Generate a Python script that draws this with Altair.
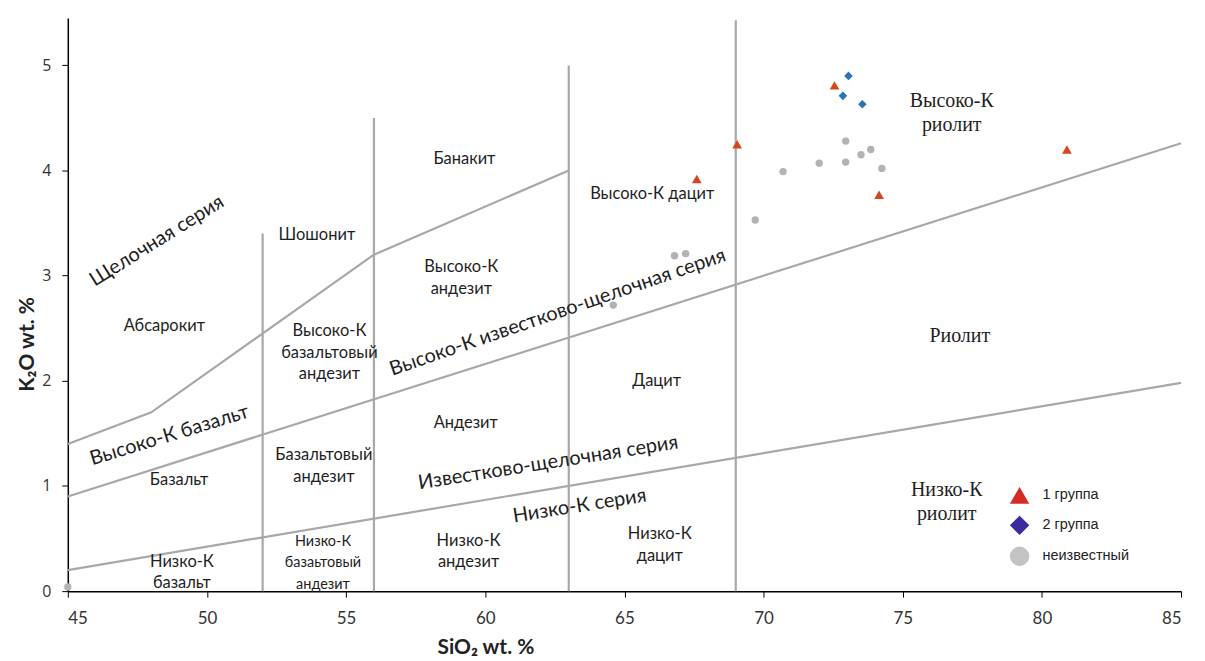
import altair as alt
import pandas as pd

# ---------------- data ----------------
# sample points (SiO2, K2O)
g1_x = [67.6, 69.05, 72.55, 74.15, 80.9]
g1_y = [3.92, 4.25, 4.81, 3.77, 4.20]
g2_x = [73.05, 72.85, 73.55]
g2_y = [4.90, 4.71, 4.63]
g3_x = [72.95, 73.85, 73.5, 72.0, 72.95, 74.25, 70.7, 69.7, 66.8, 67.2, 64.6, 45.0]
g3_y = [4.28, 4.20, 4.15, 4.07, 4.08, 4.02, 3.99, 3.53, 3.19, 3.21, 2.72, 0.04]
groups = ["1 группа", "2 группа", "неизвестный"]

# classification boundaries
alk_x = [45, 48, 56, 63]
alk_y = [1.4, 1.7, 3.2, 4.0]
hk_x = [45, 85]
hk_y = [0.9, 4.26]
lk_x = [45, 85]
lk_y = [0.2, 1.98]
vert_x = [52, 56, 63, 69]
vert_top = [3.4, 4.5, 5.0, 5.43]

# field labels (y = centre of the first line)
sans_text = ["Абсарокит", "Шошонит", "Высоко-К\nбазальтовый\nандезит", "Базальтовый\nандезит",
             "Базальт", "Низко-К\nбазальт", "Низко-К\nбазаьтовый\nандезит", "Банакит",
             "Высоко-К\nандезит", "Андезит", "Дацит", "Низко-К\nандезит", "Низко-К\nдацит",
             "Высоко-К дацит",
             "Щелочная серия", "Высоко-К базальт", "Высоко-К известково-щелочная серия",
             "Известково-щелочная серия", "Низко-К серия"]
sans_x = [48.47, 53.95, 54.4, 54.2, 49.0, 49.1, 54.17, 59.25, 59.14, 59.3, 66.16, 59.4, 66.27, 66.0,
          48.2, 48.65, 62.6, 62.26, 63.39]
sans_y = [2.52, 3.39, 2.47, 1.29, 1.06, 0.28, 0.47, 4.11, 3.08, 1.60, 2.0, 0.48, 0.54, 3.78,
          3.33, 1.48, 2.65, 1.22, 0.81]
sans_angle = [0] * 14 + [328, 343, 341, 351, 351]
sans_size = [16.5, 16.5, 16.5, 16.5, 16.5, 16.5, 14.5, 16.5, 16.5, 16.5, 16.5, 16.5, 16.5, 16.5,
             20, 20, 20, 20, 20]

serif_text = ["Высоко-К\nриолит", "Риолит", "Низко-К\nриолит"]
serif_x = [76.76, 77.05, 76.58]
serif_y = [4.66, 2.43, 0.96]

# ---------------- tables ----------------
pts = pd.DataFrame({
    "SiO2": g1_x + g2_x + g3_x,
    "K2O": g1_y + g2_y + g3_y,
    "group": [groups[0]] * len(g1_x) + [groups[1]] * len(g2_x) + [groups[2]] * len(g3_x),
})

lines = pd.DataFrame({
    "x": alk_x + hk_x + lk_x,
    "y": alk_y + hk_y + lk_y,
    "id": ["alk"] * len(alk_x) + ["hk"] * len(hk_x) + ["lk"] * len(lk_x),
    "o": list(range(len(alk_x))) + list(range(len(hk_x))) + list(range(len(lk_x))),
})
verts = pd.DataFrame({"x": vert_x, "y0": [0] * len(vert_x), "y1": vert_top})
sans_df = pd.DataFrame({"t": sans_text, "x": sans_x, "y": sans_y, "a": sans_angle, "fs": sans_size})
serif_df = pd.DataFrame({"t": serif_text, "x": serif_x, "y": serif_y})

xs = alt.Scale(domain=[45, 85], nice=False)
ys = alt.Scale(domain=[0, 5.45], nice=False)
LINE = "#a8a8a8"

xaxis = alt.Axis(values=[45, 50, 55, 60, 65, 70, 75, 80, 85], format="d", grid=False,
                 domainColor="#000", tickColor="#000", tickSize=6, labelFont="Lato",
                 labelFontSize=17, labelColor="#333", labelPadding=13, title="SiO₂ wt. %",
                 titleFont="Lato", titleFontSize=21, titleColor="#222", titleFontWeight="bold",
                 titleX=419, titleY=57, titleBaseline="middle")
yaxis = alt.Axis(values=[0, 1, 2, 3, 4, 5], format="d", grid=False, domainColor="#000",
                 tickColor="#000", tickSize=6, labelFont="Open Sans", labelFontSize=16,
                 labelColor="#333", labelPadding=11, title="K₂O wt. %", titleFont="Lato",
                 titleFontSize=21, titleColor="#222", titleFontWeight="bold", titleY=327,
                 titleX=-40, titleBaseline="middle")

base_lines = alt.Chart(lines).mark_line(color=LINE, strokeWidth=2.2).encode(
    x=alt.X("x:Q", scale=xs, axis=xaxis),
    y=alt.Y("y:Q", scale=ys, axis=yaxis),
    detail="id:N",
    order="o:Q",
)
vert_rules = alt.Chart(verts).mark_rule(color=LINE, strokeWidth=2.2).encode(
    x=alt.X("x:Q", scale=xs), y=alt.Y("y0:Q", scale=ys), y2="y1:Q"
)

sans_layer = alt.Chart(sans_df).mark_text(font="Lato", color="#1e1e1e", lineBreak="\n",
                                          lineHeight=21.5, baseline="middle", align="center").encode(
    x=alt.X("x:Q", scale=xs), y=alt.Y("y:Q", scale=ys), text="t:N",
    angle=alt.Angle("a:Q", scale=None), size=alt.Size("fs:Q", scale=None),
)
serif_layer = alt.Chart(serif_df).mark_text(font="Liberation Serif", fontSize=20, color="#1e1e1e",
                                            lineBreak="\n", lineHeight=24, baseline="middle",
                                            align="center").encode(
    x=alt.X("x:Q", scale=xs), y=alt.Y("y:Q", scale=ys), text="t:N"
)

plot_colors = ["#d4461e", "#2f74b5", "#b3b3b3"]
legend_colors = ["#d62a25", "#3a2b9e", "#c3c3c3"]
shapes = ["triangle-up", "diamond", "circle"]

points = alt.Chart(pts).mark_point(filled=True, opacity=1).encode(
    x=alt.X("SiO2:Q", scale=xs), y=alt.Y("K2O:Q", scale=ys),
    color=alt.Color("group:N", scale=alt.Scale(domain=groups, range=plot_colors), legend=None),
    shape=alt.Shape("group:N", scale=alt.Scale(domain=groups, range=shapes), legend=None),
    size=alt.Size("group:N", scale=alt.Scale(domain=groups, range=[95, 55, 65]), legend=None),
)

leg = alt.Legend(title=None, orient="none", legendX=945, legendY=469, symbolSize=380,
                 symbolStrokeWidth=0, labelFont="Liberation Sans", labelFontSize=14.5,
                 labelColor="#222", labelOffset=13, rowPadding=11, padding=0, symbolOpacity=1)
legend_layer = alt.Chart(pts).mark_point(filled=True).encode(
    x=alt.X("SiO2:Q", scale=xs), y=alt.Y("K2O:Q", scale=ys),
    color=alt.Color("group:N", scale=alt.Scale(domain=groups, range=legend_colors), legend=leg),
    shape=alt.Shape("group:N", scale=alt.Scale(domain=groups, range=shapes), legend=leg),
).transform_filter("false")

chart = alt.layer(base_lines, vert_rules, sans_layer, serif_layer, points, legend_layer).resolve_scale(
    color="independent", shape="independent"
).properties(
    width=1117, height=575,
    autosize=alt.AutoSizeParams(type="none"),
    padding={"left": 60, "top": 9, "right": 16, "bottom": 66},
).configure_view(stroke=None).configure_axis(domainWidth=1.5)

chart.save("out.html", embed_options={"renderer": "svg", "actions": False})
